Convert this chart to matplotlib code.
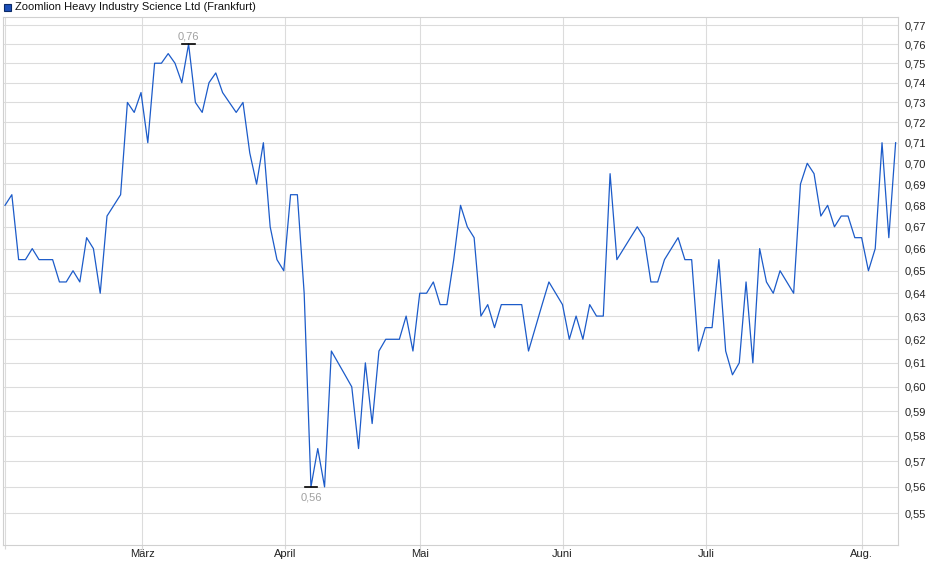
import numpy as np
import matplotlib.pyplot as plt
from matplotlib.patches import Rectangle
from matplotlib.ticker import FixedLocator, FuncFormatter, NullLocator

plt.rcParams['font.family'] = ['Liberation Sans', 'DejaVu Sans']

titel = 'Zoomlion Heavy Industry Science Ltd (Frankfurt)'

# Schlusskurse (Handelstage)
kurs = [0.68, 0.685, 0.655, 0.655, 0.66, 0.655, 0.655, 0.655, 0.645, 0.645,
        0.65, 0.645, 0.665, 0.66, 0.64, 0.675, 0.68, 0.685, 0.73, 0.725,
        0.735, 0.71, 0.75, 0.75, 0.755, 0.75, 0.74, 0.76, 0.73, 0.725,
        0.74, 0.745, 0.735, 0.73, 0.725, 0.73, 0.705, 0.69, 0.71, 0.67,
        0.655, 0.65, 0.685, 0.685, 0.64, 0.56, 0.575, 0.56, 0.615, 0.61,
        0.605, 0.60, 0.575, 0.61, 0.585, 0.615, 0.62, 0.62, 0.62, 0.63,
        0.615, 0.64, 0.64, 0.645, 0.635, 0.635, 0.655, 0.68, 0.67, 0.665,
        0.63, 0.635, 0.625, 0.635, 0.635, 0.635, 0.635, 0.615, 0.625, 0.635,
        0.645, 0.64, 0.635, 0.62, 0.63, 0.62, 0.635, 0.63, 0.63, 0.695,
        0.655, 0.66, 0.665, 0.67, 0.665, 0.645, 0.645, 0.655, 0.66, 0.665,
        0.655, 0.655, 0.615, 0.625, 0.625, 0.655, 0.615, 0.605, 0.61, 0.645,
        0.61, 0.66, 0.645, 0.64, 0.65, 0.645, 0.64, 0.69, 0.70, 0.695,
        0.675, 0.68, 0.67, 0.675, 0.675, 0.665, 0.665, 0.65, 0.66, 0.71,
        0.665, 0.71]

# erster Handelstag je Monat (Index)
monat_idx = [0, 20.2, 41.2, 61, 82, 103.1, 126]
monate = ['', 'März', 'April', 'Mai', 'Juni', 'Juli', 'Aug.']

y_ticks = [round(0.55 + 0.01 * i, 2) for i in range(23)]

W, H = 940, 579
fig = plt.figure(figsize=(W / 100, H / 100), dpi=100)
ax = fig.add_axes([3 / W, 1 - 545 / H, (898 - 3) / W, (545 - 17) / H])

x = np.arange(len(kurs))
ax.plot(x, kurs, color='#1c5bc9', lw=0.9, zorder=3)

ax.set_yscale('log')
ax.set_ylim(0.538, 0.7743)
ax.set_xlim(-0.3, len(kurs) - 1 + 0.35)

ax.yaxis.set_major_locator(FixedLocator(y_ticks))
ax.yaxis.set_minor_locator(NullLocator())
ax.yaxis.set_major_formatter(FuncFormatter(lambda v, p: f'{v:.2f}'.replace('.', ',')))
ax.yaxis.tick_right()
ax.tick_params(axis='y', length=0, pad=5, labelsize=8, labelcolor='#222222')

ax.xaxis.set_major_locator(FixedLocator(monat_idx))
ax.set_xticklabels(monate)
ax.tick_params(axis='x', length=3, color='#d8d8d8', pad=0, labelsize=8, labelcolor='#222222')

ax.grid(True, color='#dcdcdc', lw=0.8)
ax.set_axisbelow(True)
for s in ax.spines.values():
    s.set_color('#d0d0d0')
    s.set_linewidth(0.8)

# Hoch / Tief markieren
k = np.array(kurs)
i_max, i_min = int(np.argmax(k)), int(np.argmin(k))
for i, off, va in [(i_max, 3, 'bottom'), (i_min, -6, 'top')]:
    ax.plot([i - 0.9, i + 0.9], [k[i], k[i]], color='black', lw=1.2, zorder=4)
    ax.annotate(f'{k[i]:.2f}'.replace('.', ','), (i, k[i]), xytext=(0, off),
                textcoords='offset pixels', ha='center', va=va,
                fontsize=8, color='#a0a0a0')

# Legende oben links
fig.add_artist(Rectangle((4 / W, 1 - 11 / H), 7 / W, 7 / H, transform=fig.transFigure,
                         facecolor='#1c4fb8', edgecolor='#0c2a66', lw=0.8))
fig.text(15 / W, 1 - 7 / H, titel, fontsize=8, va='center', ha='left', color='#111111')

fig.savefig('out.png', dpi=100)
